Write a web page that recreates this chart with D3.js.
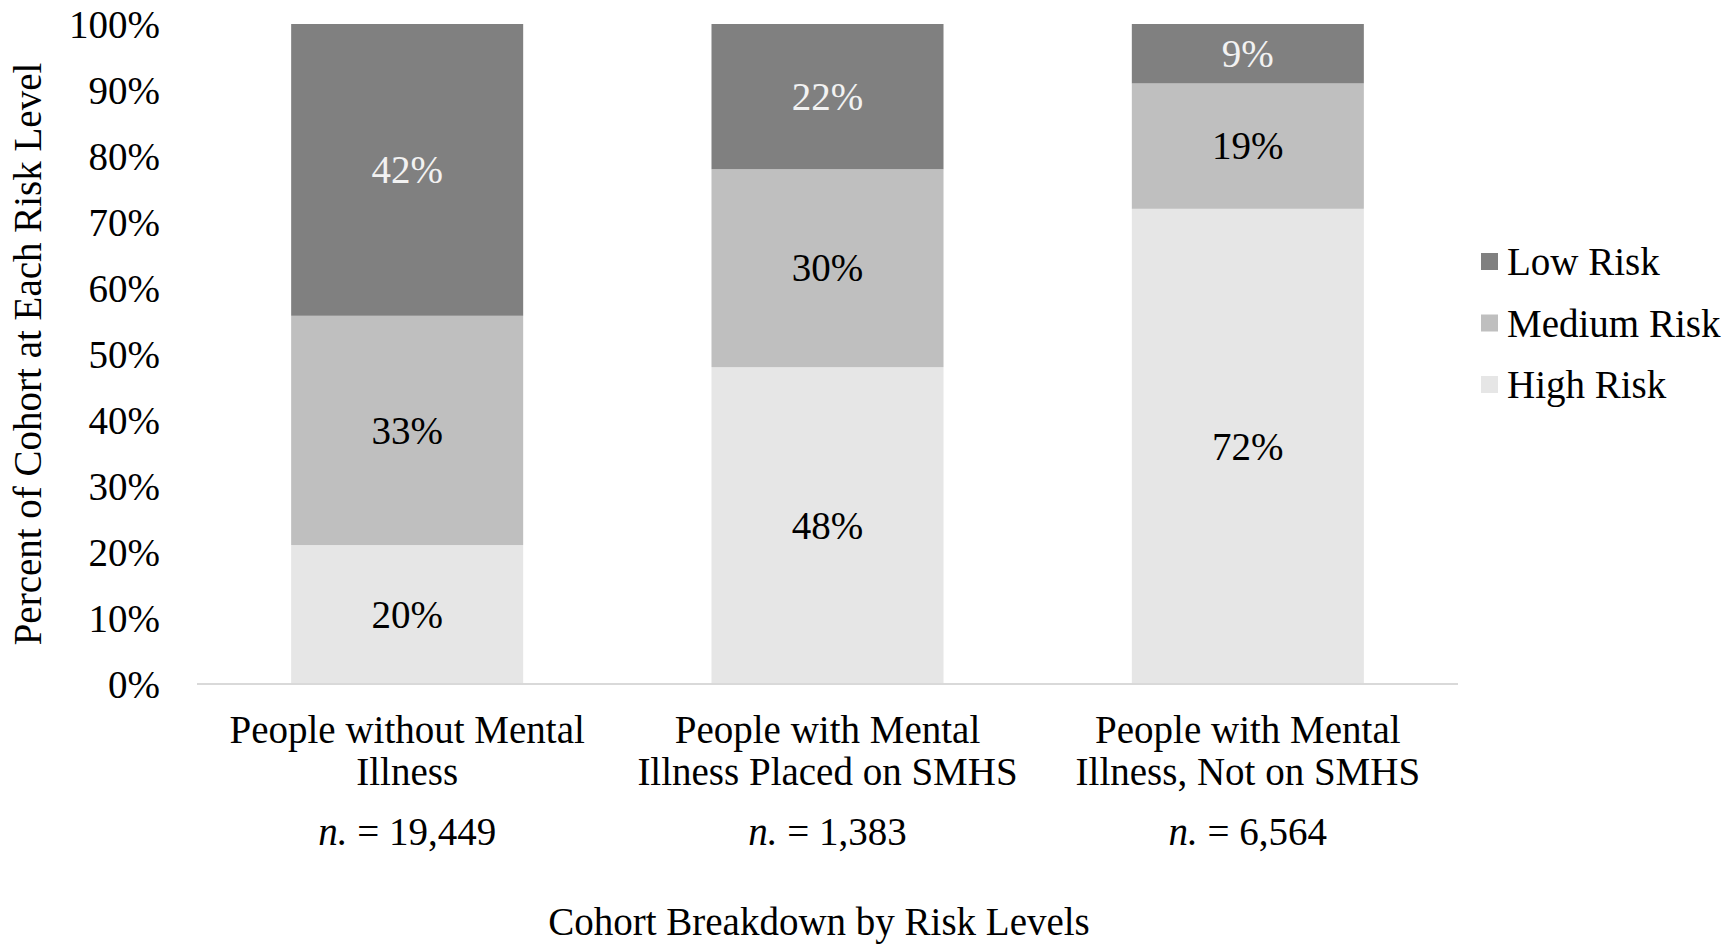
<!DOCTYPE html>
<html>
<head>
<meta charset="utf-8">
<script src="https://cdn.jsdelivr.net/npm/d3@7"></script>
<style>
  body { margin: 0; background: #fff; }
  svg text { font-family: "Liberation Serif", "Times New Roman", serif; }
</style>
</head>
<body>
<div id="chart"></div>
<script>
  'use strict';

  // categories (two label lines each) and cohort sizes
  var categories = ['without', 'placed', 'notOn'];
  var labelLine1 = ['People without Mental', 'People with Mental', 'People with Mental'];
  var labelLine2 = ['Illness', 'Illness Placed on SMHS', 'Illness, Not on SMHS'];
  var cohortN = ['19,449', '1,383', '6,564'];

  // series values (percent labels as printed, stacked to 100%)
  var highRisk = [20, 48, 72];
  var mediumRisk = [33, 30, 19];
  var lowRisk = [42, 22, 9];

  var seriesNames = ['High Risk', 'Medium Risk', 'Low Risk'];
  var yTicks = [0, 0.1, 0.2, 0.3, 0.4, 0.5, 0.6, 0.7, 0.8, 0.9, 1];

  var width = 1735;
  var height = 950;
  var fontSize = 39;

  var colors = {
    'High Risk': '#e6e6e6',
    'Medium Risk': '#bfbfbf',
    'Low Risk': '#808080'
  };
  var labelColors = {
    'High Risk': '#000',
    'Medium Risk': '#000',
    'Low Risk': '#f2f2f2'
  };

  var rows = categories.map(function (c, i) {
    return {
      cat: c,
      'High Risk': highRisk[i],
      'Medium Risk': mediumRisk[i],
      'Low Risk': lowRisk[i]
    };
  });

  var stacked = d3.stack()
    .keys(seriesNames)
    .offset(d3.stackOffsetExpand)(rows);

  var svg = d3.select('#chart').append('svg')
    .attr('width', width)
    .attr('height', height);

  var x = d3.scaleBand()
    .domain(categories)
    .range([197, 1458])
    .paddingInner(0.448)
    .paddingOuter(0.224);

  var y = d3.scaleLinear()
    .domain([0, 1])
    .range([684, 24]);

  // bars
  var layers = svg.selectAll('g.layer')
    .data(stacked)
    .enter()
    .append('g')
      .attr('class', 'layer')
      .attr('fill', function (d) { return colors[d.key]; });

  layers.selectAll('rect')
    .data(function (d) { return d; })
    .enter()
    .append('rect')
      .attr('x', function (d) { return x(d.data.cat); })
      .attr('width', x.bandwidth())
      .attr('y', function (d) { return y(d[1]); })
      .attr('height', function (d) { return y(d[0]) - y(d[1]); });

  // data labels
  stacked.forEach(function (layer) {
    svg.append('g').selectAll('text')
      .data(layer)
      .enter()
      .append('text')
        .attr('x', function (d) { return x(d.data.cat) + x.bandwidth() / 2; })
        .attr('y', function (d) { return (y(d[0]) + y(d[1])) / 2; })
        .attr('dy', '0.34em')
        .attr('text-anchor', 'middle')
        .attr('font-size', fontSize)
        .attr('fill', labelColors[layer.key])
        .text(function (d) { return d.data[layer.key] + '%'; });
  });

  // y axis (labels only)
  var yAxis = d3.axisLeft(y)
    .tickValues(yTicks)
    .tickFormat(d3.format('.0%'))
    .tickSize(0)
    .tickPadding(0);

  svg.append('g')
    .attr('transform', 'translate(160,0)')
    .call(yAxis)
    .call(function (g) {
      g.select('.domain').remove();
      g.selectAll('text')
        .attr('font-size', fontSize)
        .attr('fill', '#000')
        .attr('dy', '0.34em');
    });

  // baseline
  svg.append('line')
    .attr('x1', x.range()[0])
    .attr('x2', x.range()[1])
    .attr('y1', y(0))
    .attr('y2', y(0))
    .attr('stroke', '#d9d9d9')
    .attr('stroke-width', 2);

  // category labels
  var catG = svg.append('g').selectAll('g')
    .data(categories)
    .enter()
    .append('g')
      .attr('transform', function (d) {
        return 'translate(' + (x(d) + x.bandwidth() / 2) + ',0)';
      });

  catG.append('text')
    .attr('y', 743)
    .attr('text-anchor', 'middle')
    .attr('font-size', fontSize)
    .text(function (d, i) { return labelLine1[i]; });

  catG.append('text')
    .attr('y', 785)
    .attr('text-anchor', 'middle')
    .attr('font-size', fontSize)
    .text(function (d, i) { return labelLine2[i]; });

  var nText = catG.append('text')
    .attr('y', 845)
    .attr('text-anchor', 'middle')
    .attr('font-size', fontSize);
  nText.append('tspan')
    .attr('font-style', 'italic')
    .text('n.');
  nText.append('tspan')
    .text(function (d, i) { return ' = ' + cohortN[i]; });

  // axis titles
  svg.append('text')
    .attr('x', 819)
    .attr('y', 935)
    .attr('text-anchor', 'middle')
    .attr('font-size', fontSize)
    .text('Cohort Breakdown by Risk Levels');

  svg.append('text')
    .attr('transform', 'translate(28,354) rotate(-90)')
    .attr('dy', '0.34em')
    .attr('text-anchor', 'middle')
    .attr('font-size', fontSize)
    .text('Percent of Cohort at Each Risk Level');

  // legend (Low on top)
  var legendOrder = seriesNames.slice().reverse();
  var legend = svg.append('g').selectAll('g')
    .data(legendOrder)
    .enter()
    .append('g')
      .attr('transform', function (d, i) {
        return 'translate(1481,' + (262 + i * 61.5) + ')';
      });

  legend.append('rect')
    .attr('x', 0)
    .attr('y', -9)
    .attr('width', 17)
    .attr('height', 17)
    .attr('fill', function (d) { return colors[d]; });

  legend.append('text')
    .attr('x', 26)
    .attr('dy', '0.34em')
    .attr('font-size', fontSize)
    .text(function (d) { return d; });
</script>
</body>
</html>
